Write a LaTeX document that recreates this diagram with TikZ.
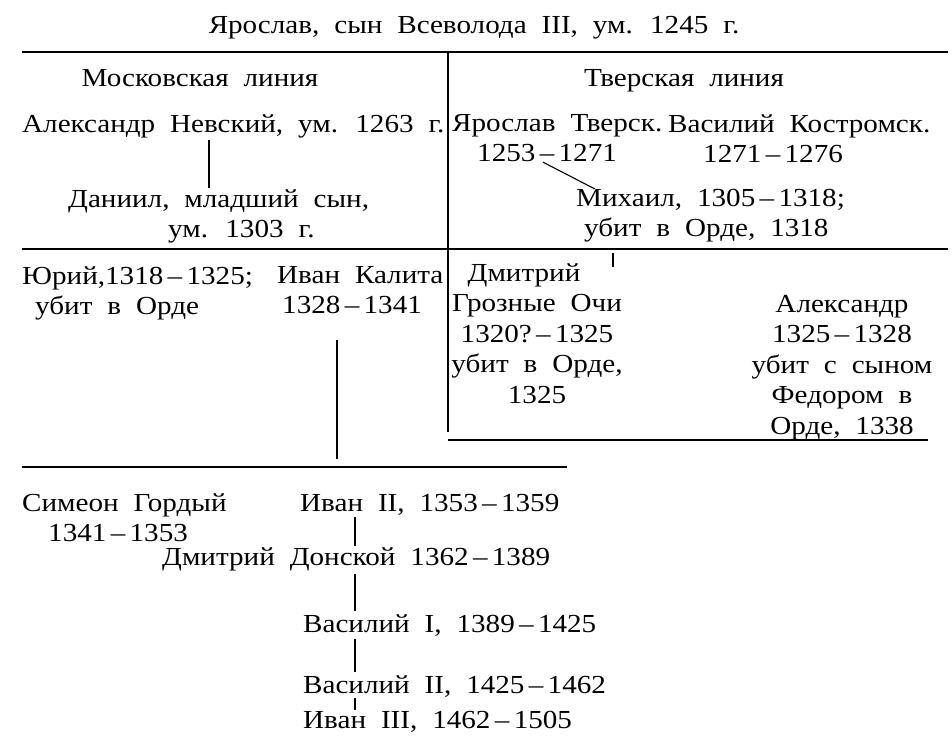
\documentclass[tikz,border=0pt]{standalone}
\usepackage{fontspec}
\setmainfont{Liberation Serif}[FakeStretch=1.12,WordSpace=2.05]
\usepackage{tikz}

\tikzset{
  person/.style={inner sep=0pt, font=\fontsize{26}{30.5}\selectfont},
  rule/.style={line width=1.3pt},
  link/.style={line width=1.1pt}
}

\begin{document}
\begin{tikzpicture}[x=1pt,y=-1pt]
	\useasboundingbox (0,0) rectangle (952,745);
	%Ярослав
	\node [person, anchor=base] (yaroslav) at (474,33) {Ярослав, сын Всеволода III, ум. 1245 г.};
	%Линии таблицы
	\draw [rule] (22,52) -- (948,52);
	\draw [rule] (448,52) -- (448,432);
	\draw [rule] (22,249) -- (948,249);
	\draw [rule] (448,440) -- (928,440);
	\draw [rule] (22,467) -- (567,467);
	%Заголовки
	\node [person, anchor=base] (moscow) at (200,86) {Московская линия};
	\node [person, anchor=base] (tver) at (684,86) {Тверская линия};
	%Московская линия
	\node [person, anchor=base west] (nevsky) at (22,132) {Александр Невский, ум. 1263 г.};
	\node [person, anchor=north west, align=left] (daniil) at (68,189) {Даниил, младший сын,\\\hspace*{100pt}ум. 1303 г.};
	\node [person, anchor=north west, align=left] (yuri) at (22,266) {Юрий,1318\,--\,1325;\\\hspace*{13pt}убит в Орде};
	\node [person, anchor=north west, align=left] (kalita) at (277,266) {Иван Калита\\\hspace*{5pt}1328\,--\,1341};
	%Тверская линия
	\node [person, anchor=north west, align=left] (yarT) at (452,114) {Ярослав Тверск.\\\hspace*{25pt}1253\,--\,1271};
	\node [person, anchor=north west, align=left] (vasK) at (668,114) {Василий Костромск.\\\hspace*{35pt}1271\,--\,1276};
	\node [person, anchor=north west, align=left] (mikhail) at (576,189) {Михаил, 1305\,--\,1318;\\\hspace*{8pt}убит в Орде, 1318};
	\node [person, anchor=north, align=center] (dmitryT) at (537,263) {Дмитрий\hspace*{26pt}\\Грозные Очи\\1320?\,--\,1325\\убит в Орде,\\1325};
	\node [person, anchor=north, align=center] (alexT) at (842,295) {Александр\\1325\,--\,1328\\убит с сыном\\Федором в\\Орде, 1338};
	%Потомки Калиты
	\node [person, anchor=north west, align=left] (simeon) at (22,493) {Симеон Гордый\\\hspace*{26pt}1341\,--\,1353};
	\node [person, anchor=base west] (ivan2) at (300,511) {Иван II, 1353\,--\,1359};
	\node [person, anchor=base west] (donskoy) at (162,565) {Дмитрий Донской 1362\,--\,1389};
	\node [person, anchor=base west] (vas1) at (303,632) {Василий I, 1389\,--\,1425};
	\node [person, anchor=base west] (vas2) at (303,693) {Василий II, 1425\,--\,1462};
	\node [person, anchor=base west] (ivan3) at (303,728) {Иван III, 1462\,--\,1505};
	%Связи
	\coordinate (nx) at (209,0);
	\draw [link, shorten <=2pt, shorten >=1pt] (nevsky.south -| nx) -- (daniil.north -| nx);
	\coordinate (dx) at (543,0);
	\draw [link] (yarT.south -| dx) -- ([xshift=19pt]mikhail.north west);
	\coordinate (mstub) at (613,267);
	\draw [link] (mikhail.south -| mstub) ++(0,10) -- (mstub);
	\coordinate (kend) at (337,459);
	\draw [link] (kalita.south -| kend) ++(0,26) -- (kend);
	\coordinate (vx) at (355,0);
	\draw [link, shorten <=2pt, shorten >=1pt] (ivan2.south -| vx) -- (donskoy.north -| vx);
	\draw [link, shorten <=3pt, shorten >=3pt] (donskoy.south -| vx) -- (vas1.north -| vx);
	\draw [link, shorten <=3pt, shorten >=3pt] (vas1.south -| vx) -- (vas2.north -| vx);
	\draw [link, shorten <=1pt, shorten >=1pt] (vas2.south -| vx) -- (ivan3.north -| vx);
\end{tikzpicture}
\end{document}
